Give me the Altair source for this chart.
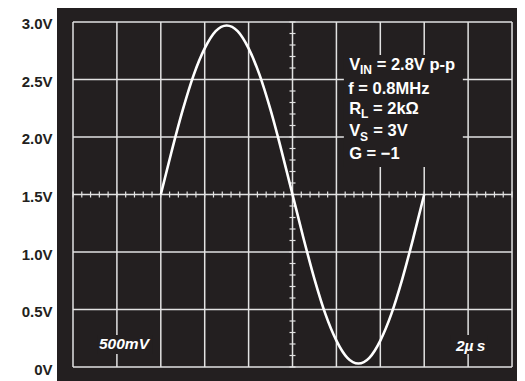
import altair as alt
import pandas as pd

# ---- data ----
wave_t = [2.0, 2.25, 2.5, 2.75, 3.0, 3.25, 3.5, 3.75, 4.0, 4.25, 4.5, 4.75, 5.0,
          5.25, 5.5, 5.75, 6.0, 6.25, 6.5, 6.75, 7.0, 7.25, 7.5, 7.75, 8.0]
wave_v = [1.50, 1.88, 2.235, 2.54, 2.77, 2.92, 2.97, 2.92, 2.77, 2.54, 2.235, 1.88, 1.50,
          1.12, 0.765, 0.46, 0.23, 0.08, 0.03, 0.08, 0.23, 0.46, 0.765, 1.12, 1.50]

div_x = list(range(0, 11))                      # horizontal divisions (2µs each)
div_y = [0, 0.5, 1.0, 1.5, 2.0, 2.5, 3.0]       # volts
minor_x = [i / 5 for i in range(0, 51)]
minor_y = [i / 10 for i in range(0, 31)]

main_text = ["V", "= 2.8V p-p", "f = 0.8MHz", "R", "= 2k\u03a9", "V", "= 3V", "G = \u22121"]
main_t = [6.29, 6.918, 6.27, 6.29, 6.834, 6.29, 6.84, 6.29]
main_v = [2.583, 2.583, 2.374, 2.200, 2.200, 2.008, 2.008, 1.809]

sub_text = ["IN", "L", "S"]
sub_t = [6.538, 6.56, 6.538]
sub_v = [2.548, 2.161, 1.965]

corner_text = ["500mV", "2\u00b5\u2009s"]
corner_t = [0.592, 8.724]
corner_v = [0.157, 0.139]

box_t1 = [6.17, 0.547, 8.60]
box_t2 = [8.88, 1.822, 9.45]
box_v1 = [1.739, 0.113, 0.113]
box_v2 = [2.713, 0.278, 0.278]

BG = "#231f20"
GRID = "#e2e2e2"
FONT = "Liberation Sans"

xs = alt.Scale(domain=[-0.3645, 10.1135], nice=False, zero=False)
ys = alt.Scale(domain=[-0.1217, 3.1217], nice=False, zero=False)

yaxis = alt.Axis(
    values=div_y,
    labelExpr="datum.value == 0 ? '0V' : format(datum.value, '.1f') + 'V'",
    labelFont=FONT, labelFontWeight="bold", labelFontSize=15, labelColor=BG,
    ticks=False, tickSize=0, domain=False, grid=False, labelPadding=5,
    labelOffset=2, title="",
)


def X(f):
    return alt.X(f, type="quantitative", scale=xs, axis=None)


def Y(f):
    return alt.Y(f, type="quantitative", scale=ys, axis=yaxis)


vlines = alt.Chart(pd.DataFrame({"t": div_x, "v1": [0] * len(div_x), "v2": [3] * len(div_x)})).mark_rule(
    color=GRID, strokeWidth=1.5).encode(x=X("t"), y=Y("v1"), y2="v2")
hlines = alt.Chart(pd.DataFrame({"v": div_y, "t1": [0] * len(div_y), "t2": [10] * len(div_y)})).mark_rule(
    color=GRID, strokeWidth=1.5).encode(y=Y("v"), x=X("t1"), x2="t2")

ticks_h = alt.Chart(pd.DataFrame({"t": minor_x, "v": [1.5] * len(minor_x)})).mark_tick(
    orient="vertical", size=6, thickness=1.2, color=GRID, opacity=1).encode(x=X("t"), y=Y("v"))
ticks_v = alt.Chart(pd.DataFrame({"v": minor_y, "t": [5] * len(minor_y)})).mark_tick(
    orient="horizontal", size=6, thickness=1.2, color=GRID, opacity=1).encode(x=X("t"), y=Y("v"))

boxes = alt.Chart(pd.DataFrame({"t1": box_t1, "t2": box_t2, "v1": box_v1, "v2": box_v2})).mark_rect(
    color=BG).encode(x=X("t1"), x2="t2", y=Y("v1"), y2="v2")

wave = alt.Chart(pd.DataFrame({"t": wave_t, "v": wave_v})).mark_line(
    color="white", strokeWidth=2.6, interpolate="monotone").encode(x=X("t"), y=Y("v"))

txt_main = alt.Chart(pd.DataFrame({"s": main_text, "t": main_t, "v": main_v})).mark_text(
    align="left", baseline="alphabetic", font=FONT, fontWeight="bold", fontSize=16.5, color="white"
).encode(x=X("t"), y=Y("v"), text="s:N")
txt_sub = alt.Chart(pd.DataFrame({"s": sub_text, "t": sub_t, "v": sub_v})).mark_text(
    align="left", baseline="alphabetic", font=FONT, fontWeight="bold", fontSize=12, color="white"
).encode(x=X("t"), y=Y("v"), text="s:N")
txt_corner = alt.Chart(pd.DataFrame({"s": corner_text, "t": corner_t, "v": corner_v})).mark_text(
    align="left", baseline="alphabetic", font=FONT, fontWeight="bold", fontStyle="italic",
    fontSize=15.5, color="white"
).encode(x=X("t"), y=Y("v"), text="s:N")

chart = alt.layer(
    vlines, hlines, ticks_h, ticks_v, boxes, wave, txt_main, txt_sub, txt_corner
).properties(
    width=460, height=373,
    autosize=alt.AutoSizeParams(type="none"),
    padding={"left": 49, "top": 0, "right": 0, "bottom": 0},
    background="white",
).configure_view(fill=BG, strokeWidth=0)

chart.save("out.html", embed_options={"renderer": "svg", "actions": False})
